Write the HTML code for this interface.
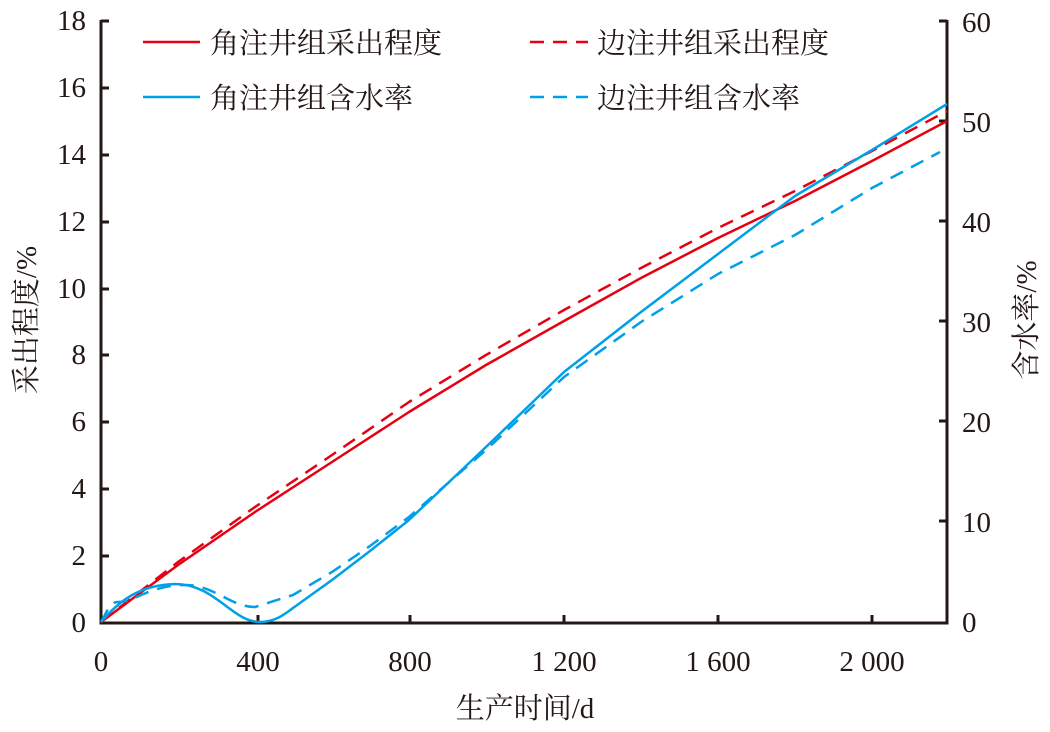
<!DOCTYPE html><html><head><meta charset="utf-8"><style>body{margin:0;background:#fff}svg{display:block}text{font-family:"Liberation Serif","Noto Serif CJK SC",serif;fill:#231815}</style></head><body>
<svg width="1050" height="732" viewBox="0 0 1050 732">
<g stroke="#231815" stroke-width="3" fill="none">
<path d="M101,20 V623 H947 V20"/>
<path d="M101,21h8M101,88h8M101,155h8M101,222h8M101,289h8M101,355h8M101,422h8M101,489h8M101,556h8"/>
<path d="M947,21h-8M947,121h-8M947,221h-8M947,321h-8M947,421h-8M947,521h-8"/>
<path d="M258,623v-8M410,623v-8M564,623v-8M718,623v-8M872,623v-8"/>
</g>
<g font-size="29" text-anchor="end">
<text x="86" y="632">0</text><text x="86" y="565">2</text><text x="86" y="498">4</text><text x="86" y="431">6</text><text x="86" y="364">8</text><text x="86" y="298">10</text><text x="86" y="231">12</text><text x="86" y="164">14</text><text x="86" y="97">16</text><text x="86" y="30">18</text>
</g>
<g font-size="29">
<text x="962" y="632">0</text><text x="962" y="532">10</text><text x="962" y="432">20</text><text x="962" y="332">30</text><text x="962" y="232">40</text><text x="962" y="132">50</text><text x="962" y="32">60</text>
</g>
<g font-size="29" text-anchor="middle">
<text x="101" y="671">0</text><text x="258" y="671">400</text><text x="410" y="671">800</text><text x="564" y="671">1 200</text><text x="718" y="671">1 600</text><text x="872" y="671">2 000</text>
<text x="525" y="718">生产时间/d</text>
<text transform="translate(36,320) rotate(-90)">采出程度/%</text>
<text transform="translate(1036,320) rotate(-90)">含水率/%</text>
</g>
<g fill="none" stroke-width="2.5" stroke-linejoin="round">
<path stroke="#e60012" d="M101,622 L178,565 L255,512 L332,462 L409,412 L486,365 L564,321 L641,278 L718,238 L795,201 L872,161 L947,121"/>
<path stroke="#e60012" stroke-dasharray="14,9" d="M101,622 L178,562 L255,507 L332,455 L409,402 L486,355 L564,310 L641,268 L718,228 L795,191 L872,151 L947,111"/>
<path stroke="#00a0e9" d="M101,622 C120,600 140,585 175,584 C215,584 232,622 260,622 C275,622 285,614 293,608 L332,580 L370,551 L409,520 L486,447 L564,372 L641,312 L718,254 L795,196 L872,150 L947,104"/>
<path stroke="#00a0e9" stroke-dasharray="14,9" d="M101,622 C108,610 110,602 118,602 C135,602 150,585 185,585 C215,585 230,607 255,607 L293,595 L332,572 L370,546 L409,517 L486,450 L564,377 L641,322 L718,274 L795,235 L872,188 L940,152"/>
</g>
<g stroke-width="2.5">
<line x1="143" y1="42" x2="200" y2="42" stroke="#e60012"/>
<line x1="530" y1="42" x2="588" y2="42" stroke="#e60012" stroke-dasharray="14,9"/>
<line x1="143" y1="97" x2="200" y2="97" stroke="#00a0e9"/>
<line x1="530" y1="97" x2="588" y2="97" stroke="#00a0e9" stroke-dasharray="14,9"/>
</g>
<g font-size="29">
<text x="210" y="53">角注井组采出程度</text><text x="597" y="53">边注井组采出程度</text>
<text x="210" y="108">角注井组含水率</text><text x="597" y="108">边注井组含水率</text>
</g>
</svg></body></html>
